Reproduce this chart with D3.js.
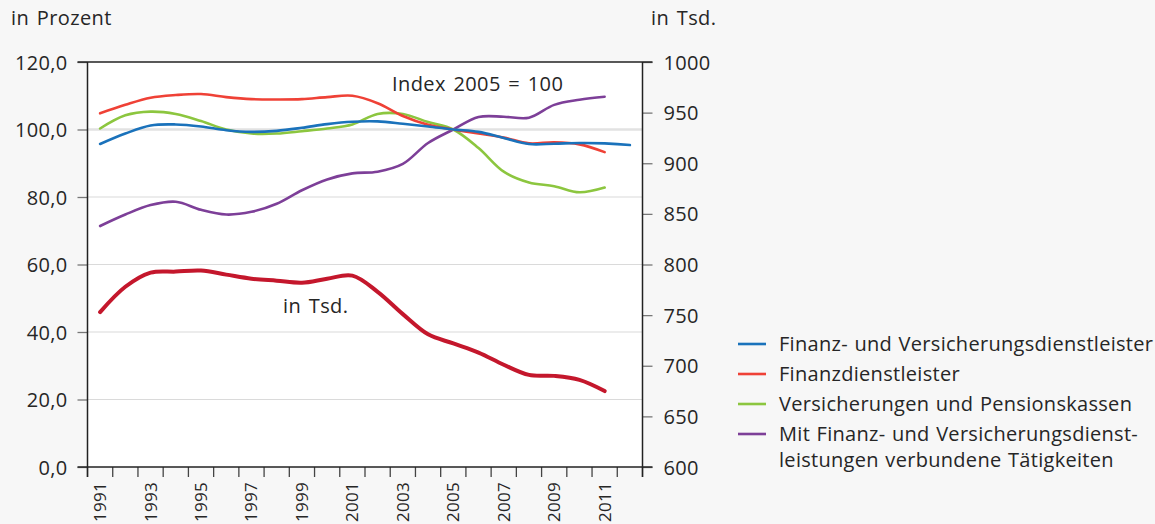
<!DOCTYPE html>
<html><head><meta charset="utf-8">
<script src="https://cdn.jsdelivr.net/npm/d3@7"></script>
<style>
body{margin:0;background:#f7f7f7;}
svg{display:block;}
text{font-family:"Open Sans",sans-serif;fill:#262626;}
</style>
</head><body>
<svg id="chart" width="1155" height="524"></svg>
<script>
// ---------- data ----------
const years = [1991,1992,1993,1994,1995,1996,1997,1998,1999,2000,2001,2002,2003,2004,2005,2006,2007,2008,2009,2010,2011,2012];
const yearLabels = ["1991","1993","1995","1997","1999","2001","2003","2005","2007","2009","2011"];
// Index 2005 = 100 (left axis)
const finanzUndVersicherung = [95.7,98.8,101.2,101.5,100.9,99.8,99.3,99.6,100.5,101.6,102.3,102.4,101.7,100.9,100.0,99.3,97.5,95.7,95.8,96.0,95.9,95.4];
const finanzdienstleister   = [104.8,107.3,109.4,110.2,110.5,109.6,109.0,108.9,109.0,109.6,110.0,107.8,104.0,101.4,100.0,98.8,97.6,95.9,96.2,95.6,93.3];
const versicherungen        = [100.3,104.2,105.3,104.6,102.5,100.0,98.8,98.8,99.5,100.3,101.5,104.6,104.6,102.2,100.0,94.5,87.5,84.3,83.2,81.4,82.8];
const verbundene            = [71.4,74.8,77.6,78.6,76.2,74.8,75.6,78.0,82.0,85.2,87.0,87.5,89.8,96.0,100.0,103.7,103.8,103.5,107.3,108.8,109.7];
// in Tsd. (right axis)
const beschaeftigteTsd      = [753,778,792,793,794,790,786,784,782,786,789,773,751,731,722,713,701,691,690,686,675];

const leftTicks = [0,20,40,60,80,100,120];
const rightTicks = [600,650,700,750,800,850,900,950,1000];
const legendLabels = [
  ["Finanz- und Versicherungsdienstleister"],
  ["Finanzdienstleister"],
  ["Versicherungen und Pensionskassen"],
  ["Mit Finanz- und Versicherungsdienst-","leistungen verbundene Tätigkeiten"]
];
const colors = ["#1a72bb","#ef4136","#8cc63f","#7d3f98"];
const tsdColor = "#c4172c";

// ---------- layout ----------
const L = 87.5, R = 642.5, T = 62, B = 467;
const svg = d3.select("#chart");

const x = d3.scaleBand().domain(years).range([L, R]).padding(0);
const cx = d => x(d) + x.bandwidth()/2;
const yL = d3.scaleLinear().domain([0,120]).range([B,T]);
const yR = d3.scaleLinear().domain([600,1000]).range([B,T]);

// plot background
svg.append("rect").attr("x",L).attr("y",T).attr("width",R-L).attr("height",B-T).attr("fill","#fff");

// gridlines
svg.append("g").selectAll("line").data(leftTicks.filter(v=>v>0 && v<120)).join("line")
  .attr("x1",L).attr("x2",R).attr("y1",d=>yL(d)).attr("y2",d=>yL(d))
  .attr("stroke", d=> d===100 ? "#e2e2e2" : "#dadada")
  .attr("stroke-width", d=> d===100 ? 2.5 : 1.2);

// left axis
const gL = svg.append("g").attr("transform",`translate(${L},0)`)
  .call(d3.axisLeft(yL).tickValues(leftTicks).tickSize(10).tickPadding(10)
    .tickFormat(d=>d3.format(".1f")(d).replace(".",",")));
gL.select(".domain").remove();
gL.selectAll(".tick line").attr("stroke","#777").attr("stroke-width",1.3);
gL.selectAll(".tick text").style("font-size","20px").style("letter-spacing","0.3px").attr("dy","0.35em");

// right axis
const gR = svg.append("g").attr("transform",`translate(${R},0)`)
  .call(d3.axisRight(yR).tickValues(rightTicks).tickSize(10).tickPadding(11).tickFormat(d3.format("d")));
gR.select(".domain").remove();
gR.selectAll(".tick line").attr("stroke","#777").attr("stroke-width",1.3);
gR.selectAll(".tick text").style("font-size","20px").style("letter-spacing","0.3px").attr("dy","0.35em");

// bottom axis
const tickPos = years.map(d=>x(d)).concat([R]);
svg.append("g").selectAll("line").data(tickPos).join("line")
  .attr("x1",d=>d).attr("x2",d=>d).attr("y1",B).attr("y2",B+10)
  .attr("stroke","#444").attr("stroke-width",1.3);
svg.append("g").selectAll("text").data(yearLabels).join("text")
  .attr("transform",d=>`translate(${cx(+d)+6},${B+15}) rotate(-90)`)
  .attr("text-anchor","end")
  .style("font-size","17px")
  .style("letter-spacing","0.3px")
  .text(d=>d);

// frame lines
svg.append("line").attr("x1",L-10).attr("x2",R+10).attr("y1",T).attr("y2",T).attr("stroke","#222").attr("stroke-width",1.5);
svg.append("line").attr("x1",L-10).attr("x2",R+10).attr("y1",B).attr("y2",B).attr("stroke","#222").attr("stroke-width",1.5);
svg.append("line").attr("x1",L).attr("x2",L).attr("y1",T).attr("y2",B+10).attr("stroke","#222").attr("stroke-width",1.5);
svg.append("line").attr("x1",R).attr("x2",R).attr("y1",T).attr("y2",B+10).attr("stroke","#222").attr("stroke-width",1.5);

// lines
const lineL = d3.line().x((d,i)=>cx(years[i])).y(d=>yL(d)).curve(d3.curveCatmullRom.alpha(0.5));
const lineR = d3.line().x((d,i)=>cx(years[i])).y(d=>yR(d)).curve(d3.curveCatmullRom.alpha(0.5));

svg.append("path").datum(beschaeftigteTsd).attr("d",lineR)
  .attr("fill","none").attr("stroke",tsdColor).attr("stroke-width",4).attr("stroke-linecap","round");

const seriesL = [verbundene, versicherungen, finanzdienstleister, finanzUndVersicherung];
const seriesColors = [colors[3], colors[2], colors[1], colors[0]];
seriesL.forEach((s,k)=>{
  svg.append("path").datum(s).attr("d",lineL)
    .attr("fill","none").attr("stroke",seriesColors[k]).attr("stroke-width",2.6).attr("stroke-linecap","round");
});

// annotations
const ann = (xx,yy,txt)=>svg.append("text").attr("x",xx).attr("y",yy)
  .style("font-size","20px").style("letter-spacing","0.4px").style("word-spacing","2px").text(txt);
ann(11,25,"in Prozent");
ann(651,25,"in Tsd.");
ann(392,91,"Index 2005 = 100");
ann(283,313,"in Tsd.");

// legend
const legRows = [344, 374, 404, 434];
const lg = svg.append("g");
legendLabels.forEach((lines,i)=>{
  lg.append("line").attr("x1",738).attr("x2",766).attr("y1",legRows[i]).attr("y2",legRows[i])
    .attr("stroke",colors[i]).attr("stroke-width",2.6);
  const t = lg.append("text").attr("x",779).attr("y",legRows[i])
    .style("font-size","20px").style("letter-spacing","0.3px").style("word-spacing","1px");
  lines.forEach((ln,j)=>{
    t.append("tspan").attr("x",779).attr("dy", j===0 ? "0.35em" : "26px").text(ln);
  });
});
</script>
</body></html>
